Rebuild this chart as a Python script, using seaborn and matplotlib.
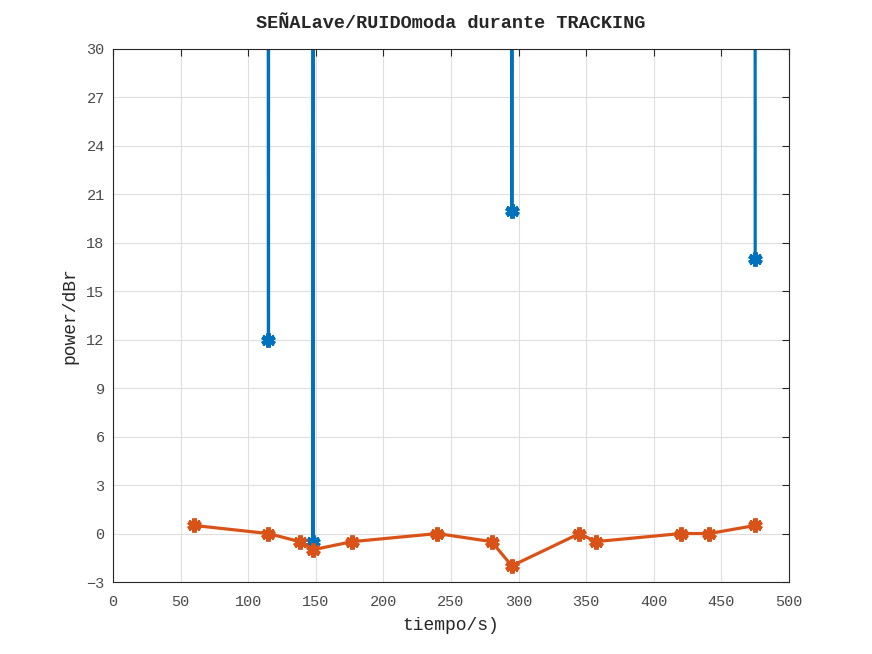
import numpy as np
import matplotlib
matplotlib.use("Agg")
import matplotlib.pyplot as plt
import seaborn as sns

# tiempo (s) de cada medida
tiempo = [60, 115, 138, 148, 177, 240, 280, 295, 345, 357, 420, 441, 475]
# SEÑALave / RUIDOmoda (dBr); valores fuera de escala donde el ruido es ~0
senal_ave = [1e4, 12, 1e4, -0.5, 1e4, 1e4, 1e4, 20, 1e4, 1e4, 1e4, 1e4, 17]
ruido_moda = [0.5, 0, -0.5, -1, -0.5, 0, -0.5, -2, 0, -0.5, 0, 0, 0.5]

x_ticks = np.arange(0, 501, 50)
y_ticks = np.arange(-3, 31, 3)

sns.set_style("white")
plt.rcParams['font.family'] = ['Liberation Mono', 'DejaVu Sans Mono']

fig = plt.figure(figsize=(8.72, 6.54), dpi=100)
ax = fig.add_axes([113/872, 1 - 582/654, (789 - 113)/872, (582 - 49)/654])

blue = "#0072BD"
orange = "#D95319"
line_kw = dict(marker=(6, 2, 0), markersize=10, linewidth=2.3,
               estimator=None, sort=False)

sns.lineplot(x=tiempo, y=senal_ave, ax=ax, color=blue,
             markeredgecolor=blue, markeredgewidth=3.4, **line_kw)
sns.lineplot(x=tiempo, y=ruido_moda, ax=ax, color=orange,
             markeredgecolor=orange, markeredgewidth=3.4, **line_kw)

ax.set_xlim(0, 500)
ax.set_ylim(-3, 30)
ax.set_xticks(x_ticks)
ax.set_yticks(y_ticks)
ax.grid(True, color="#dedede", linewidth=0.8)
ax.set_axisbelow(True)
for sp in ax.spines.values():
    sp.set_visible(True)
    sp.set_color("#262626")
    sp.set_linewidth(0.8)
ax.tick_params(direction="in", length=5, width=0.8, colors="#262626",
               top=True, right=True, labelsize=11, labelcolor="#4a4a4a")
ax.tick_params(axis="x", pad=9)
ax.tick_params(axis="y", pad=6)

ax.set_title("SEÑALave/RUIDOmoda durante TRACKING", fontsize=13.3,
             fontweight="bold", pad=15)
ax.set_xlabel("tiempo/s)", fontsize=13, color="#262626", labelpad=6)
ax.set_ylabel("power/dBr", fontsize=13, color="#262626", labelpad=6)

fig.savefig("out.png", dpi=100)
